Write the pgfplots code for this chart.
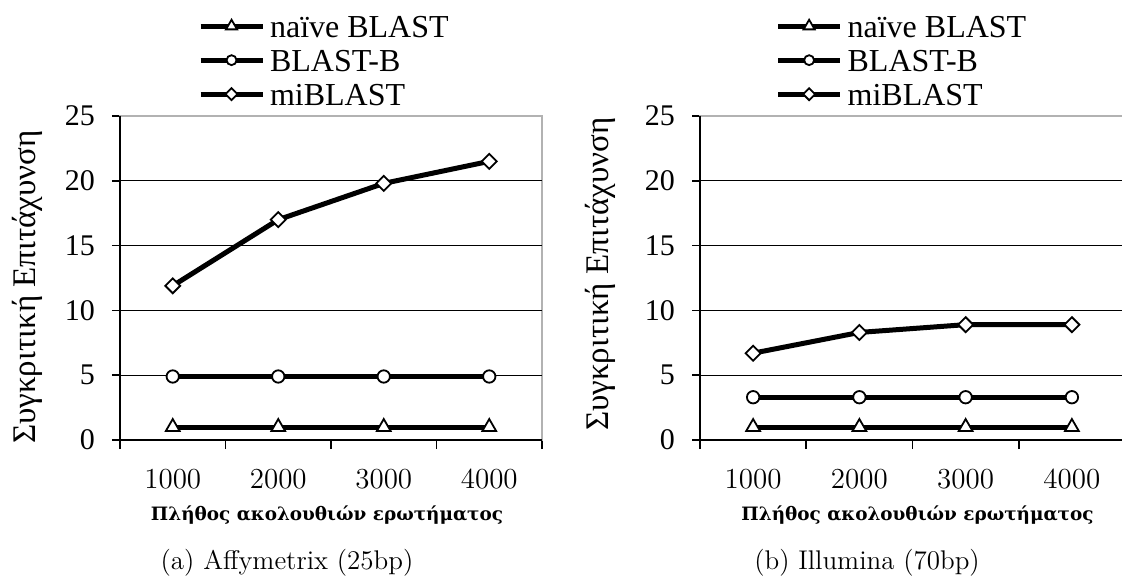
\documentclass[border=0pt]{standalone}
\usepackage{fontspec}
\usepackage{pgfplots}
\pgfplotsset{compat=1.18}
\newfontfamily\timesf{Liberation Serif}
\newfontfamily\gbold{DejaVu Serif}

% speedup of three aligners versus number of query sequences
\pgfplotstableread{
x naive blastb miblast
0 1 4.9 11.9
1 1 4.9 17.0
2 1 4.9 19.8
3 1 4.9 21.5
}\affy
\pgfplotstableread{
x naive blastb miblast
0 1 3.3 6.7
1 1 3.3 8.3
2 1 3.3 8.9
3 1 3.3 8.9
}\illu

\pgfplotsset{
  panel/.style={
    scale only axis, height=162pt,
    xmin=-0.5, xmax=3.5, ymin=0, ymax=25,
    xtick={0,1,2,3}, xticklabels={1000,2000,3000,4000},
    major x tick style={draw=none},
    minor xtick={-0.5,0.5,1.5,2.5,3.5},
    minor x tick style={black, line width=0.8pt},
    minor tick length=4.5pt,
    xticklabel style={font=\fontsize{14.5}{14.5}\selectfont, yshift=-7pt},
    ytick={0,5,10,15,20,25}, yticklabels={0,5,10,15,20,25},
    yticklabel style={font=\timesf\fontsize{15}{15}\selectfont, xshift=-5pt},
    major y tick style={black, line width=0.8pt},
    major tick length=4pt,
    tick align=outside, xtick pos=bottom, ytick pos=left,
    extra y ticks={5,10,15,20}, extra y tick labels={},
    extra y tick style={ymajorgrids=true, major tick length=0pt},
    grid style={black, line width=0.7pt},
    axis line style={draw=gray!60, line width=0.8pt},
    after end axis/.code={
      \draw[black, line width=0.9pt] (rel axis cs:0,1) -- (rel axis cs:0,0) -- (rel axis cs:1,0);
    },
    ylabel={Συγκριτική Επιτάχυνση},
    ylabel style={font=\timesf\fontsize{16.5}{16.5}\selectfont, anchor=center},
    xlabel={Πλήθος ακολουθιών ερωτήματος},
    xlabel style={font=\gbold\bfseries\fontsize{9.2}{9.2}\selectfont,
      at={(axis description cs:0.5,0)}, anchor=center, yshift=-37.5pt},
    legend image code/.code={
      \draw[mark repeat=2, mark phase=2, #1, /tikz/every mark/.append style={scale=0.8}]
        plot coordinates {(0pt,0pt) (15.5pt,0pt) (31pt,0pt)};
    },
    legend style={draw=none, fill=none, inner sep=0pt, anchor=north west,
      font=\timesf\fontsize{16}{16}\selectfont,
      nodes={inner sep=0pt, text height=11.5pt, text depth=0pt},
      row sep=5.5pt,
      /tikz/every odd column/.style={column sep=2.5pt}},
    legend cell align=left,
    every axis plot/.append style={black, line width=2.5pt},
  },
  naivestyle/.style={mark=triangle*, mark size=4pt,
    mark options={fill=white, draw=black, line width=0.9pt, solid}},
  bstyle/.style={mark=*, mark size=3.1pt,
    mark options={fill=white, draw=black, line width=0.9pt, solid}},
  mistyle/.style={mark=square*, mark size=2.65pt,
    mark options={fill=white, draw=black, line width=0.9pt, solid, rotate=45}},
}

\begin{document}
\begin{tikzpicture}
\path[use as bounding box] (0pt,0pt) rectangle (561pt,291.5pt);

\begin{axis}[panel, width=211pt, at={(60pt,71.5pt)}, anchor=south west,
  ylabel style={at={(axis description cs:-0.2204,0.472)}},
  xlabel style={xshift=-2pt},
  legend style={at={(axis description cs:0.184,1.314)}}]
  \addplot[naivestyle] table[x=x, y=naive] {\affy};
  \addplot[bstyle] table[x=x, y=blastb] {\affy};
  \addplot[mistyle] table[x=x, y=miblast] {\affy};
  \legend{naïve BLAST, BLAST-B, miBLAST}
\end{axis}

\begin{axis}[panel, width=212.5pt, at={(350pt,71.5pt)}, anchor=south west,
  ylabel style={at={(axis description cs:-0.2353,0.512)}},
  xlabel style={xshift=2.5pt},
  legend style={at={(axis description cs:0.177,1.314)}}]
  \addplot[naivestyle] table[x=x, y=naive] {\illu};
  \addplot[bstyle] table[x=x, y=blastb] {\illu};
  \addplot[mistyle] table[x=x, y=miblast] {\illu};
  \legend{naïve BLAST, BLAST-B, miBLAST}
\end{axis}

\node[font=\fontsize{13.5}{13.5}\selectfont] at (143.5pt,10pt) {(a) Affymetrix (25bp)};
\node[font=\fontsize{13.5}{13.5}\selectfont] at (433.5pt,10pt) {(b) Illumina (70bp)};
\end{tikzpicture}
\end{document}
